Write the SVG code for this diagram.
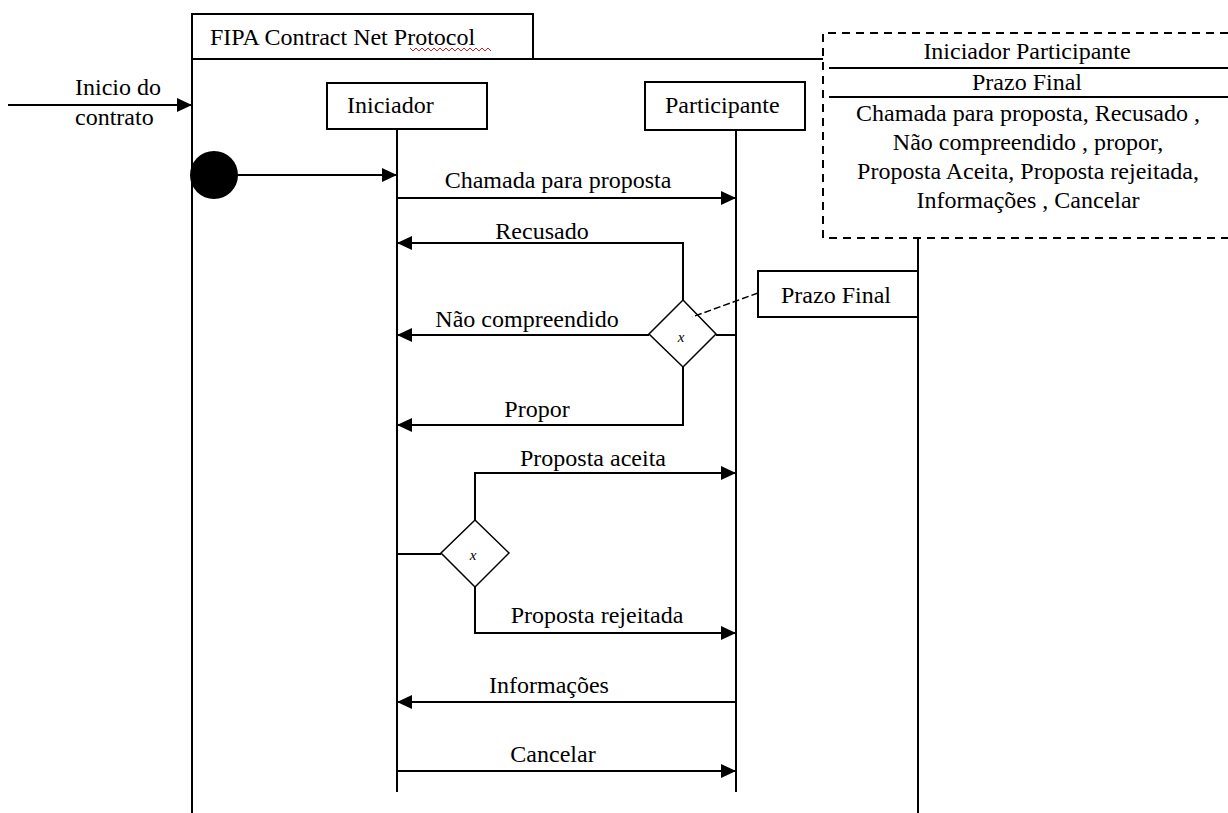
<svg xmlns="http://www.w3.org/2000/svg" width="1228" height="813" viewBox="0 0 1228 813">
  <style>
    .ln { stroke: #000; stroke-width: 2; fill: none; }
    .box { stroke: #000; stroke-width: 2; fill: #fff; }
    .dash { stroke: #000; stroke-width: 2; fill: none; stroke-dasharray: 8 6; }
    .t { font-family: "Liberation Serif", "Times New Roman", serif; font-size: 24px; fill: #000; }
    .c { text-anchor: middle; }
    .sm { font-family: "Liberation Serif", "Times New Roman", serif; font-size: 15px; font-style: italic; text-anchor: middle; fill: #000; }
    .msg { stroke: #000; stroke-width: 2; fill: none; marker-end: url(#arrow); }
  </style>
  <defs>
    <marker id="arrow" markerUnits="userSpaceOnUse" markerWidth="16" markerHeight="14" refX="15" refY="7" orient="auto">
      <path d="M0,0 L15,7 L0,14 Z" fill="#000"/>
    </marker>
  </defs>
  <rect width="1228" height="813" fill="#fff"/>

  <!-- protocol frame -->
  <g id="frame">
    <rect class="box" x="192" y="14" width="341" height="45"/>
    <text class="t" x="210" y="45">FIPA Contract Net Protocol</text>
    <path d="M410,48 l3,3 l3,-3 l3,3 l3,-3 l3,3 l3,-3 l3,3 l3,-3 l3,3 l3,-3 l3,3 l3,-3 l3,3 l3,-3 l3,3 l3,-3 l3,3 l3,-3 l3,3 l3,-3 l3,3 l3,-3 l3,3 l3,-3 l3,3 l3,-3 l3,3" stroke="#d02020" stroke-width="1" fill="none"/>
    <path class="ln" d="M192,14 V813 M192,59 H823 M918,238 V813"/>
  </g>

  <!-- template parameter box -->
  <g id="params">
    <path class="dash" d="M1228,33 H823 V238 H1228"/>
    <path class="ln" d="M829,68 H1228 M829,97 H1228"/>
    <text class="t c" x="1027" y="59">Iniciador Participante</text>
    <text class="t c" x="1027" y="90">Prazo Final</text>
    <text class="t c" x="1028" y="121">Chamada para proposta, Recusado ,</text>
    <text class="t c" x="1028" y="150">Não compreendido , propor,</text>
    <text class="t c" x="1028" y="179">Proposta Aceita, Proposta rejeitada,</text>
    <text class="t c" x="1028" y="208">Informações , Cancelar</text>
  </g>

  <!-- lifelines -->
  <g id="iniciador">
    <rect class="box" x="327" y="83" width="160" height="46"/>
    <text class="t" x="347" y="113">Iniciador</text>
    <path class="ln" d="M397,129 V792"/>
  </g>
  <g id="participante">
    <rect class="box" x="645" y="82" width="160" height="48"/>
    <text class="t" x="665" y="113">Participante</text>
    <path class="ln" d="M736,130 V792"/>
  </g>

  <g id="inicio">
    <circle cx="214" cy="175" r="24" fill="#000"/>
  </g>

  <g id="prazo-final">
    <rect class="box" x="758" y="271" width="160" height="46"/>
    <text class="t c" x="836" y="303">Prazo Final</text>
  </g>

  <g id="decisao-participante">
    <polygon points="683,300 716,334 683,367 649,334" fill="#fff" stroke="#000" stroke-width="1.5"/>
    <text class="sm" x="681" y="342">x</text>
  </g>

  <g id="decisao-iniciador">
    <polygon points="475,520 509,553 475,587 441,553" fill="#fff" stroke="#000" stroke-width="1.5"/>
    <text class="sm" x="473" y="560">x</text>
  </g>

  <!-- messages and links -->
  <g id="connectors">
    <path class="msg" d="M8,105 H192"/>
    <path class="msg" d="M238,175 H397"/>
    <path class="msg" d="M397,198 H736"/>
    <path class="msg" d="M683,300 V243 H397"/>
    <path class="msg" d="M649,335 H397"/>
    <path class="ln" d="M716,335 H736"/>
    <path class="msg" d="M683,367 V425 H397"/>
    <path d="M758,293 L692,317" stroke="#000" stroke-width="1.5" stroke-dasharray="7 3" fill="none"/>
    <path class="ln" d="M397,554 H441"/>
    <path class="msg" d="M475,520 V473 H736"/>
    <path class="msg" d="M475,587 V633 H736"/>
    <path class="msg" d="M736,702 H397"/>
    <path class="msg" d="M397,771 H736"/>
  </g>

  <!-- message labels -->
  <g id="labels">
    <text class="t" x="75" y="95">Inicio do</text>
    <text class="t" x="75" y="125">contrato</text>
    <text class="t c" x="558" y="188">Chamada para proposta</text>
    <text class="t c" x="542" y="239">Recusado</text>
    <text class="t c" x="527" y="327">Não compreendido</text>
    <text class="t c" x="537" y="417">Propor</text>
    <text class="t c" x="593" y="466">Proposta aceita</text>
    <text class="t c" x="597" y="623">Proposta rejeitada</text>
    <text class="t c" x="549" y="693">Informações</text>
    <text class="t c" x="553" y="762">Cancelar</text>
  </g>
</svg>
